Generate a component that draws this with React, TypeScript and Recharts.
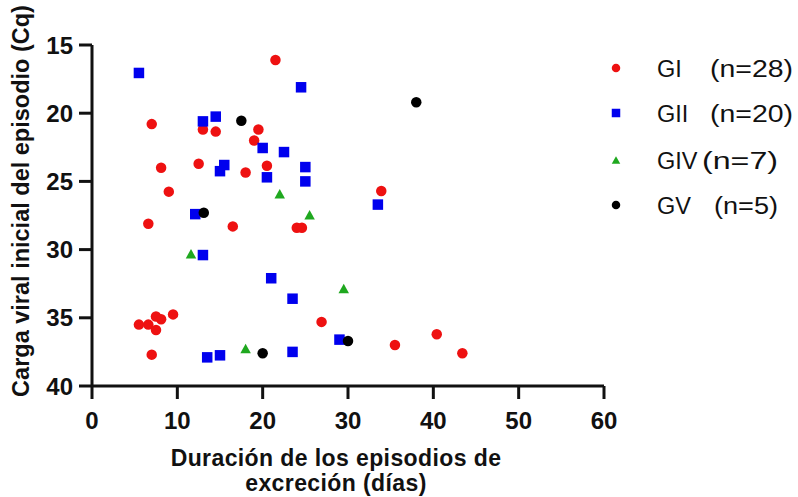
import React from 'react';
import { ScatterChart, Scatter, XAxis, YAxis, Legend, Label } from 'recharts';

// Duración (días) y Cq inicial por genogrupo
const giDuration = [21.5, 7, 13, 14.5, 19.5, 19, 8.1, 12.5, 18, 20.5, 9, 6.6, 16.5, 24, 24.6, 9.5, 7.5, 8.1, 5.5, 6.6, 7.5, 26.9, 7, 33.9, 35.5, 40.4, 43.4];
const giCq = [16.1, 20.8, 21.2, 21.35, 21.2, 22.0, 24.0, 23.7, 24.35, 23.85, 25.75, 28.1, 28.3, 28.4, 28.4, 34.75, 34.9, 35.1, 35.5, 35.5, 35.9, 35.3, 37.7, 25.7, 37.0, 36.2, 37.6];

const giiDuration = [5.5, 24.5, 13, 14.5, 20, 22.5, 15.5, 15, 20.5, 25, 25, 12.1, 13, 21, 23.5, 29, 13.5, 15, 23.5, 33.5];
const giiCq = [17.05, 18.1, 20.6, 20.25, 22.55, 22.85, 23.8, 24.25, 24.7, 23.95, 25.0, 27.4, 30.4, 32.1, 33.6, 36.6, 37.9, 37.75, 37.5, 26.7];

const givDuration = [22, 25.5, 11.6, 29.5, 18];
const givCq = [25.9, 27.45, 30.3, 32.85, 37.25];

const gvDuration = [17.5, 13.1, 30, 20, 38];
const gvCq = [20.55, 27.3, 36.7, 37.6, 19.2];

const xTicks = [0, 10, 20, 30, 40, 50, 60];
const yTicks = [15, 20, 25, 30, 35, 40];

const legendItems = [
  { name: 'GI', n: '(n=28)', color: '#ee1111', shape: 'circle', nx: 110, nw: 83 },
  { name: 'GII', n: '(n=20)', color: '#0000ee', shape: 'square', nx: 110, nw: 83 },
  { name: 'GIV', n: '(n=7)', color: '#1fa81f', shape: 'triangle', nx: 102, nw: 76 },
  { name: 'GV', n: '(n=5)', color: '#000000', shape: 'circle', nx: 114, nw: 64 },
];

const toPoints = (xs: number[], ys: number[]) => xs.map((x, i) => ({ x, y: ys[i] }));

const FONT = 'Liberation Sans, Arial, Helvetica, sans-serif';

const Marker = ({ shape, color, cx, cy, s }: { shape: string; color: string; cx: number; cy: number; s: number }) => {
  if (shape === 'square') {
    return <rect x={cx - s / 2} y={cy - s / 2} width={s} height={s} fill={color} />;
  }
  if (shape === 'triangle') {
    const h = s * 0.9;
    return <polygon points={`${cx},${cy - h / 2} ${cx + s / 2},${cy + h / 2} ${cx - s / 2},${cy + h / 2}`} fill={color} />;
  }
  return <circle cx={cx} cy={cy} r={s / 2} fill={color} />;
};

const makeShape = (shape: string, color: string) => (props: any) => (
  <Marker shape={shape} color={color} cx={props.cx} cy={props.cy} s={10.5} />
);

const LegendBox = () => {
  const rows = [28, 73, 120, 165];
  return (
    <svg width={198} height={190} style={{ display: 'block' }}>
      {legendItems.map((item, i) => (
        <g key={item.name}>
          <Marker shape={item.shape} color={item.color} cx={16} cy={rows[i]} s={8.5} />
          <text x={57} y={rows[i] + 8.5} fontFamily={FONT} fontSize={23.5} fill="#111">{item.name}</text>
          <text x={item.nx} y={rows[i] + 8.5} fontFamily={FONT} fontSize={23.5} fill="#111" textLength={item.nw} lengthAdjust="spacingAndGlyphs">{item.n}</text>
        </g>
      ))}
    </svg>
  );
};

const XTitle = () => (
  <text fontFamily={FONT} fontSize={23} fontWeight="bold" fill="#111" textAnchor="middle" letterSpacing={0.4}>
    <tspan x={336} y={466}>Duración de los episodios de</tspan>
    <tspan x={336} y={491}>excreción (días)</tspan>
  </text>
);

const YTitle = () => (
  <text transform="translate(29, 201) rotate(-90)" fontFamily={FONT} fontSize={23.5} fontWeight="bold" fill="#111" textAnchor="middle">
    Carga viral inicial del episodio (Cq)
  </text>
);

const tickStyle = { fill: '#111', fontSize: 24, fontWeight: 'bold', fontFamily: FONT };

export default function App() {
  return (
    <div style={{ position: 'absolute', left: 0, top: 0, background: '#fff' }}>
      <ScatterChart width={798} height={497} margin={{ top: 45, right: 194, bottom: 0, left: 0 }}>
        <XAxis
          type="number"
          dataKey="x"
          domain={[0, 60]}
          ticks={xTicks}
          interval={0}
          allowDataOverflow
          height={111}
          tickSize={13}
          tickMargin={13}
          stroke="#111"
          strokeWidth={3}
          tick={tickStyle}
        >
          <Label content={<XTitle />} />
        </XAxis>
        <YAxis
          type="number"
          dataKey="y"
          domain={[15, 40]}
          reversed
          ticks={yTicks}
          interval={0}
          allowDataOverflow
          width={92}
          tickSize={13}
          tickMargin={6}
          stroke="#111"
          strokeWidth={3}
          tick={tickStyle}
        >
          <Label content={<YTitle />} />
        </YAxis>
        <Legend
          layout="vertical"
          align="center"
          verticalAlign="middle"
          content={<LegendBox />}
          wrapperStyle={{ left: 600, top: 40, width: 198, height: 190 }}
        />
        <Scatter name="GI" data={toPoints(giDuration, giCq)} shape={makeShape('circle', '#ee1111')} isAnimationActive={false} />
        <Scatter name="GII" data={toPoints(giiDuration, giiCq)} shape={makeShape('square', '#0000ee')} isAnimationActive={false} />
        <Scatter name="GIV" data={toPoints(givDuration, givCq)} shape={makeShape('triangle', '#1fa81f')} isAnimationActive={false} />
        <Scatter name="GV" data={toPoints(gvDuration, gvCq)} shape={makeShape('circle', '#000000')} isAnimationActive={false} />
      </ScatterChart>
    </div>
  );
}
